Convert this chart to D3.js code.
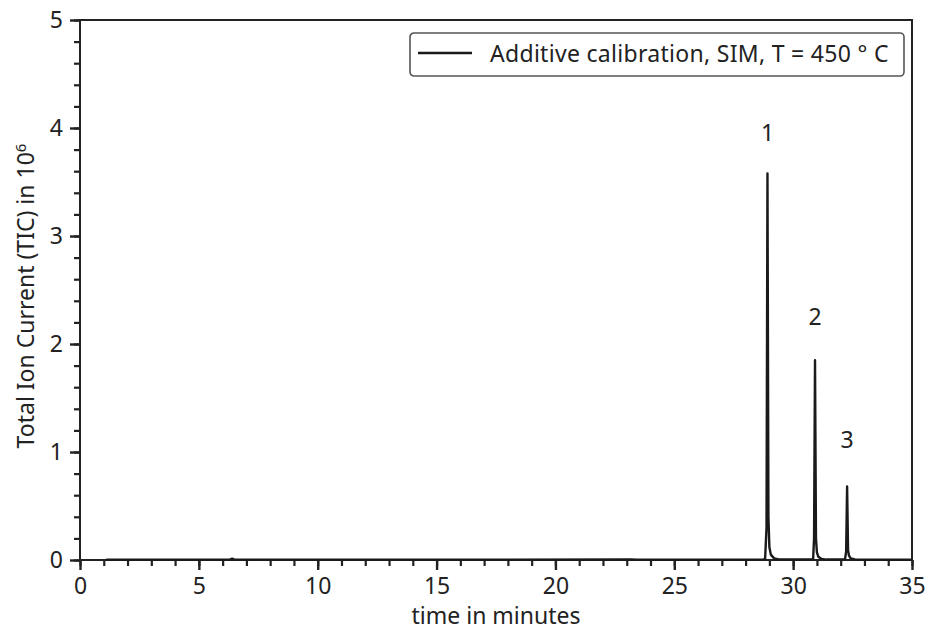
<!DOCTYPE html>
<html>
<head>
<meta charset="utf-8">
<script src="https://cdn.jsdelivr.net/npm/d3@7"></script>
<style>
  body { margin: 0; background: #fff; }
  text { font-family: "Noto Sans", Lato, sans-serif; fill: #222; }
</style>
</head>
<body>
<div id="chart"></div>
<script>
// chromatogram samples (minutes, TIC in 10^6)
const times = [1.1, 6.3, 6.4, 6.5, 23.2, 23.4, 28.82, 28.88, 28.92, 28.96, 29.0, 29.06, 29.2, 29.4,
               30.84, 30.88, 30.92, 30.96, 31.0, 31.06, 31.2, 31.4,
               32.18, 32.23, 32.27, 32.31, 32.35, 32.42, 32.6, 35];
const tic = [0.003, 0.003, 0.012, 0.003, 0.004, 0.003, 0.004, 0.3, 3.58, 0.4, 0.12, 0.05, 0.015, 0.005,
             0.004, 0.2, 1.85, 0.2, 0.07, 0.03, 0.01, 0.004,
             0.004, 0.08, 0.68, 0.09, 0.04, 0.015, 0.005, 0.003];

// peak annotations
const peakLabels = ["1", "2", "3"];
const peakTimes = [28.92, 30.92, 32.27];
const peakLabelY = [3.88, 2.18, 1.04];

const xTicks = [0, 5, 10, 15, 20, 25, 30, 35];
const yTicks = [0, 1, 2, 3, 4, 5];
const legendText = "Additive calibration, SIM, T = 450 ° C";

const W = 928, H = 632;
const margin = {left: 80, right: 16, top: 20, bottom: 72};
const fs = 23;

const svg = d3.select("#chart").append("svg")
    .attr("width", W).attr("height", H);

const x = d3.scaleLinear().domain([0, 35]).range([margin.left, W - margin.right]);
const y = d3.scaleLinear().domain([0, 5]).range([H - margin.bottom, margin.top]);

// minor ticks
svg.append("g")
    .attr("transform", `translate(0,${y(0)})`)
    .call(d3.axisBottom(x).tickValues(d3.range(0, 36, 1)).tickSize(6).tickFormat(""))
    .call(g => g.select(".domain").remove())
    .call(g => g.selectAll("line").attr("stroke", "#222").attr("stroke-width", 2.2));
svg.append("g")
    .attr("transform", `translate(${x(0)},0)`)
    .call(d3.axisLeft(y).tickValues(d3.range(0, 5.01, 0.2)).tickSize(6).tickFormat(""))
    .call(g => g.select(".domain").remove())
    .call(g => g.selectAll("line").attr("stroke", "#222").attr("stroke-width", 2.2));

// major ticks + labels
svg.append("g")
    .attr("transform", `translate(0,${y(0)})`)
    .call(d3.axisBottom(x).tickValues(xTicks).tickSize(10).tickPadding(8).tickFormat(d3.format("d")))
    .call(g => g.select(".domain").remove())
    .call(g => g.selectAll("line").attr("stroke", "#222").attr("stroke-width", 2.4))
    .call(g => g.selectAll("text").attr("font-size", fs).style("fill", "#222"));
svg.append("g")
    .attr("transform", `translate(${x(0)},0)`)
    .call(d3.axisLeft(y).tickValues(yTicks).tickSize(10).tickPadding(7).tickFormat(d3.format("d")))
    .call(g => g.select(".domain").remove())
    .call(g => g.selectAll("line").attr("stroke", "#222").attr("stroke-width", 2.4))
    .call(g => g.selectAll("text").attr("font-size", fs).style("fill", "#222"));

// frame
svg.append("rect")
    .attr("x", x(0)).attr("y", y(5))
    .attr("width", x(35) - x(0)).attr("height", y(0) - y(5))
    .attr("fill", "none").attr("stroke", "#222").attr("stroke-width", 2);

// trace
const line = d3.line().x((d, i) => x(times[i])).y(d => y(d));
svg.append("path")
    .datum(tic)
    .attr("d", line)
    .attr("fill", "none")
    .attr("stroke", "#1a1a1a")
    .attr("stroke-width", 2.4)
    .attr("stroke-linejoin", "round");

// peak labels
svg.selectAll(".peak-label")
    .data(peakLabels)
    .enter()
    .append("text")
    .attr("class", "peak-label")
    .attr("x", (d, i) => x(peakTimes[i]))
    .attr("y", (d, i) => y(peakLabelY[i]))
    .attr("text-anchor", "middle")
    .attr("font-size", fs)
    .text(d => d);

// legend
const leg = svg.append("g").attr("transform", "translate(410,33)");
leg.append("rect")
    .attr("width", 494).attr("height", 43).attr("rx", 4)
    .attr("fill", "#fff").attr("stroke", "#555").attr("stroke-width", 1.6);
leg.append("line")
    .attr("x1", 8).attr("x2", 62).attr("y1", 20).attr("y2", 20)
    .attr("stroke", "#1a1a1a").attr("stroke-width", 2.6);
leg.append("text")
    .attr("x", 80).attr("y", 29)
    .attr("font-size", fs)
    .attr("letter-spacing", 0.3)
    .text(legendText);

// axis titles
svg.append("text")
    .attr("x", (x(0) + x(35)) / 2).attr("y", 624)
    .attr("text-anchor", "middle")
    .attr("font-size", fs)
    .text("time in minutes");

const yt = svg.append("text")
    .attr("transform", `translate(34,${(y(0) + y(5)) / 2 + 6}) rotate(-90)`)
    .attr("text-anchor", "middle")
    .attr("font-size", fs);
yt.append("tspan").text("Total Ion Current (TIC) in 10");
yt.append("tspan").attr("dy", -8).attr("font-size", 15).text("6");
</script>
</body>
</html>
